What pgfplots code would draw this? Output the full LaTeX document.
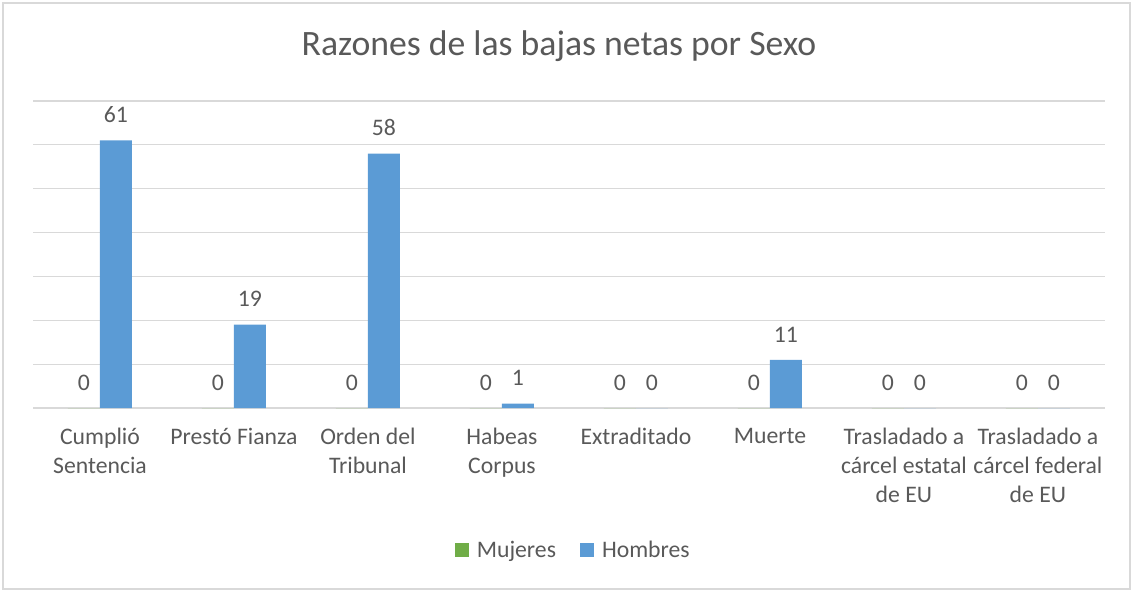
\documentclass[border=0pt]{standalone}
\usepackage{pgfplots}
\pgfplotsset{compat=1.18}
\usepackage{fontspec}
\setmainfont{Carlito}
\definecolor{txt}{HTML}{595959}
\definecolor{grd}{HTML}{D9D9D9}
\definecolor{hom}{HTML}{5B9BD5}
\definecolor{muj}{HTML}{70AD47}
\newcommand\lbl{\fontsize{23.7pt}{29pt}\selectfont}
\begin{document}
\begin{tikzpicture}
\useasboundingbox (0pt,0pt) rectangle (1133pt,592pt);
\draw[grd, line width=1.2pt] (3pt,3pt) rectangle (1130pt,589pt);
\node[anchor=base, text=txt, font=\fontsize{35.7pt}{42pt}\selectfont] at (559pt,536pt) {Razones de las bajas netas por Sexo};
\begin{axis}[
  at={(33pt,184pt)}, anchor=south west,
  scale only axis, width=1072pt, height=307pt,
  xmin=-0.5, xmax=7.5, ymin=0, ymax=70,
  ybar=0pt, bar width=32pt,
  axis line style={draw=none},
  major tick length=0pt,
  ytick={0,10,...,70}, yticklabels={},
  ymajorgrids=true, grid style={grd, line width=1.2pt},
  xtick={0,...,7},
  xticklabels={{Cumplió\\Sentencia},{Prestó Fianza},{Orden del\\Tribunal},{Habeas\\Corpus},{Extraditado},{Muerte},{Trasladado a\\cárcel estatal\\de EU},{Trasladado a\\cárcel federal\\de EU}},
  xticklabel style={font=\lbl, text=txt, align=center, anchor=north, inner sep=0pt, yshift=-20pt},
  /pgf/number format/assume math mode=true,
  nodes near coords,
  nodes near coords style={font=\lbl, text=txt, anchor=south, inner sep=0pt, yshift=17.5pt},
  legend columns=2,
  legend style={at={(0.504,-0.4625)}, anchor=center, draw=none, fill=none, inner sep=0pt,
    font=\lbl, text=txt,
    /tikz/every odd column/.append style={column sep=6pt},
    /tikz/every even column/.append style={column sep=22pt}},
  legend image code/.code={\fill[#1] (0pt,-7pt) rectangle (14pt,7pt);},
]
\addplot[fill=muj, draw=none] coordinates {(0,0) (1,0) (2,0) (3,0) (4,0) (5,0) (6,0) (7,0)};
\addplot[fill=hom, draw=none] coordinates {(0,61) (1,19) (2,58) (3,1) (4,0) (5,11) (6,0) (7,0)};
\legend{Mujeres,Hombres}
\end{axis}
\end{tikzpicture}
\end{document}
